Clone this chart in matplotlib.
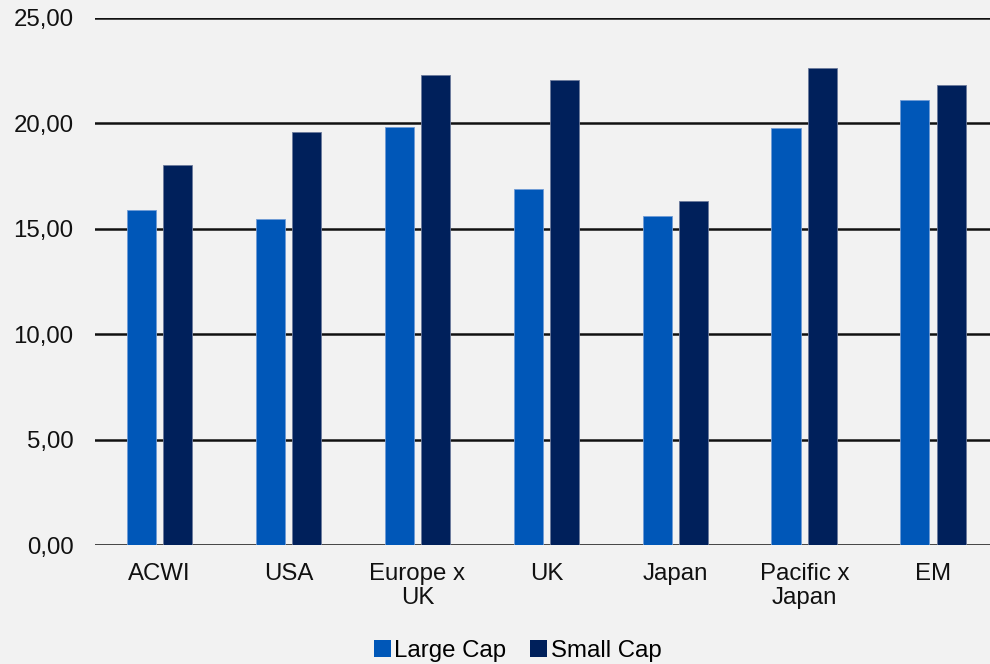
import matplotlib
matplotlib.use("Agg")
import matplotlib.pyplot as plt
import numpy as np

categories = ["ACWI", "USA", "Europe x\nUK", "UK", "Japan", "Pacific x\nJapan", "EM"]
large_cap = [15.89, 15.46, 19.83, 16.89, 15.61, 19.78, 21.11]
small_cap = [18.03, 19.59, 22.30, 22.06, 16.32, 22.63, 21.82]
yticks = [0, 5, 10, 15, 20, 25]

plt.rcParams['font.family'] = ['Liberation Sans', 'DejaVu Sans']
bg = "#F2F2F2"
c_large = "#0057B8"
c_small = "#00205B"

fig = plt.figure(figsize=(9.9, 6.64), dpi=100, facecolor=bg)
ax = fig.add_axes([0.096, 0.1792, 0.912, 0.7937], facecolor=bg)

x = np.arange(len(categories))
w = 0.225
off = 0.143
ax.bar(x - off, large_cap, width=w, color=c_large, edgecolor="#6F9BD6", linewidth=0.6, zorder=3, label="Large Cap")
ax.bar(x + off, small_cap, width=w, color=c_small, edgecolor="#6C7A9C", linewidth=0.6, zorder=3, label="Small Cap")

fs = 17.3
ax.set_xlim(-0.5, len(categories) - 0.5)
ax.set_ylim(0, 25)
ax.set_yticks(yticks)
ax.set_yticklabels([f"{v:.2f}".replace(".", ",") for v in yticks], fontsize=fs, color="#111111")
ax.set_xticks(x)
ax.set_xticklabels(categories, fontsize=fs, color="#111111", linespacing=1.12)
ax.tick_params(axis='both', length=0)
ax.tick_params(axis='y', pad=15.5)
ax.tick_params(axis='x', pad=13)
ax.grid(axis='y', color="#111111", linewidth=1.8, zorder=1)
for s in ax.spines.values():
    s.set_visible(False)

leg = fig.legend(loc="lower center", bbox_to_anchor=(0.523, -0.03), ncol=2, frameon=False,
                 fontsize=fs, handlelength=0.7, handleheight=0.7, handletextpad=0.15,
                 columnspacing=1.0)
for h in leg.legend_handles:
    h.set_edgecolor("none")

fig.savefig("out.png", dpi=100, facecolor=bg)
